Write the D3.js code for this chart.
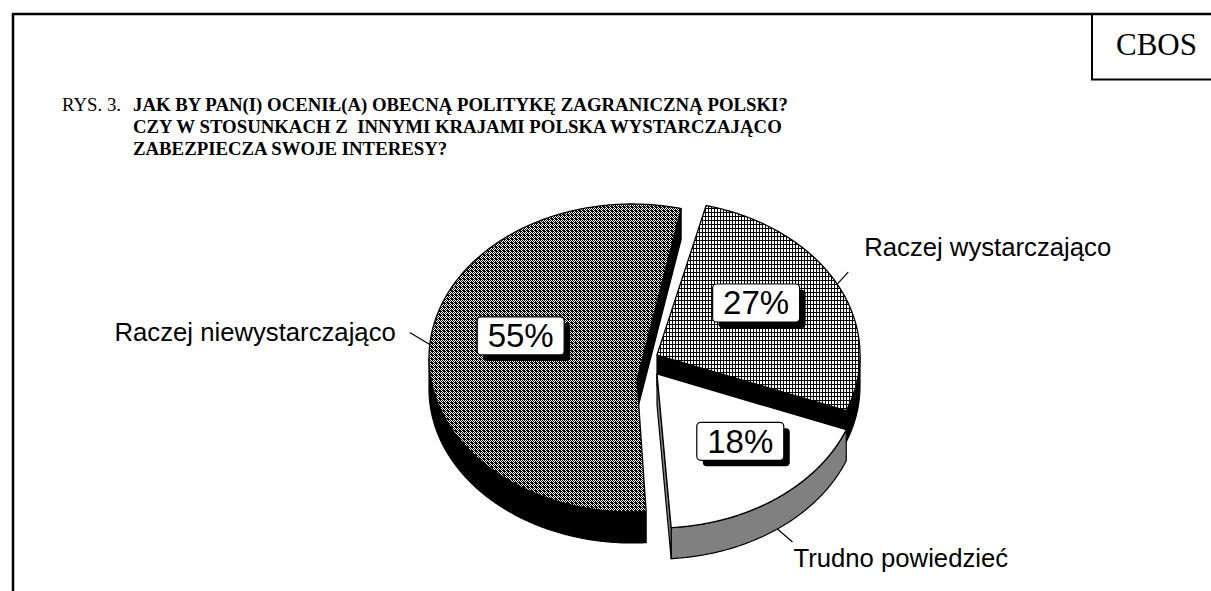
<!DOCTYPE html>
<html><head><meta charset="utf-8">
<script src="https://cdnjs.cloudflare.com/ajax/libs/d3/7.8.5/d3.min.js"></script>
<style>html,body{margin:0;padding:0;background:#fff;} svg{display:block}</style>
</head><body>
<svg id="chart" width="1211" height="591"></svg>
<script>
// ---- data ----
const categories = ["Raczej wystarczająco", "Trudno powiedzieć", "Raczej niewystarczająco"];
const values = [27, 18, 55];
const percentLabels = ["27%", "18%", "55%"];
const figureLabel = "RYS. 3.";
const titleLines = [
  "JAK BY PAN(I) OCENIŁ(A) OBECNĄ POLITYKĘ ZAGRANICZNĄ POLSKI?",
  "CZY W STOSUNKACH Z  INNYMI KRAJAMI POLSKA WYSTARCZAJĄCO",
  "ZABEZPIECZA SWOJE INTERESY?"
];
const sourceLabel = "CBOS";

// ---- layout / style ----
const W = 1211, H = 591;
const RX = 203, RY = 154, DEPTH = 31;
const START_DEG = 14;
const sliceStyle = [
  { center: [657, 355], apexShift: [0, 0], face: "url(#grid)", wall: "#000",
    nudge: [-9, -9.5], leader: [11, -12], textOff: [16, -16], anchor: "start", leaderDepth: false },
  { center: [657, 374], apexShift: [0, 0], face: "#fff", wall: "#808080",
    nudge: [11, -7], leader: [15, 13], textOff: [1, 25], anchor: "start", leaderDepth: true },
  { center: [632, 358], apexShift: [5, 22], face: "url(#dither)", wall: "#000",
    nudge: [10, -14], leader: [-20, -12], textOff: [-14, 8], anchor: "end", leaderDepth: false }
];
const serif = "'Liberation Serif','Times New Roman',serif";
const sans = "'Liberation Sans',Arial,sans-serif";

const svg = d3.select("#chart");
const defs = svg.append("defs");

// grid pattern (27%)
const pg = defs.append("pattern").attr("id", "grid").attr("patternUnits", "userSpaceOnUse")
  .attr("x", 0).attr("y", 0).attr("width", 3).attr("height", 4);
pg.append("rect").attr("width", 3).attr("height", 4).attr("fill", "#fff");
pg.append("rect").attr("x", 0).attr("y", 0).attr("width", 1).attr("height", 4).attr("fill", "#000");
pg.append("rect").attr("x", 0).attr("y", 0).attr("width", 3).attr("height", 1).attr("fill", "#000");

// dither pattern (55%)
const ditherRows = ["1010", "0101", "1011", "1101"];
const pd = defs.append("pattern").attr("id", "dither").attr("patternUnits", "userSpaceOnUse")
  .attr("x", 0).attr("y", 0).attr("width", 4).attr("height", 4);
pd.append("rect").attr("width", 4).attr("height", 4).attr("fill", "#fff");
ditherRows.forEach((row, r) => row.split("").forEach((ch, c) => {
  if (ch === "1") pd.append("rect").attr("x", c).attr("y", r).attr("width", 1).attr("height", 1).attr("fill", "#000");
}));

// ---- frame ----
svg.append("line").attr("x1", 12).attr("x2", W).attr("y1", 14).attr("y2", 14).attr("stroke", "#000").attr("stroke-width", 2.5);
svg.append("line").attr("x1", 13).attr("x2", 13).attr("y1", 13).attr("y2", H).attr("stroke", "#000").attr("stroke-width", 2.5);
svg.append("line").attr("x1", 1092).attr("x2", 1092).attr("y1", 14).attr("y2", 80).attr("stroke", "#000").attr("stroke-width", 2);
svg.append("line").attr("x1", 1091).attr("x2", W).attr("y1", 79.5).attr("y2", 79.5).attr("stroke", "#000").attr("stroke-width", 2);
svg.append("text").attr("x", 1116).attr("y", 55).attr("font-family", serif)
  .attr("font-size", 31).attr("textLength", 81).attr("lengthAdjust", "spacingAndGlyphs").text(sourceLabel);

// ---- title ----
svg.append("text").attr("x", 62).attr("y", 111).attr("font-family", serif)
  .attr("font-size", 18.8).text(figureLabel);
titleLines.forEach((t, i) => {
  svg.append("text").attr("x", 133).attr("y", 111 + i * 22)
    .attr("font-family", serif).attr("font-weight", "bold")
    .attr("font-size", 18.8).style("white-space", "pre").text(t);
});

// ---- pie ----
const pie = d3.pie().sort(null).value(d => d)
  .startAngle(START_DEG * Math.PI / 180).endAngle(START_DEG * Math.PI / 180 + 2 * Math.PI);
const arcs = pie(values);

const xScale = d3.scaleLinear().domain([-1, 1]).range([-RX, RX]);
const yScale = d3.scaleLinear().domain([-1, 1]).range([RY, -RY]);
function proj(c, a, r = 1, dz = 0) {
  return [c[0] + xScale(r * Math.sin(a)), c[1] + yScale(r * Math.cos(a)) + dz];
}
function arcPts(c, a0, a1, dz) {
  const n = Math.max(2, Math.ceil(Math.abs(a1 - a0) / (Math.PI / 360)));
  return d3.range(n + 1).map(i => proj(c, a0 + (a1 - a0) * i / n, 1, dz));
}
const line = d3.line();
const closed = pts => line(pts) + "Z";

const order = [0, 2, 1];
const g = svg.append("g");
order.forEach(i => {
  const a = arcs[i], st = sliceStyle[i];
  const c = st.center;
  const apex = [c[0] + st.apexShift[0], c[1] + st.apexShift[1]];
  const a0 = a.startAngle, a1 = a.endAngle;
  const sg = g.append("g");
  const w0 = Math.max(a0, Math.PI / 2), w1 = Math.min(a1, 3 * Math.PI / 2);
  if (w1 > w0) {
    const top = arcPts(c, w0, w1, 0), bot = arcPts(c, w0, w1, DEPTH).reverse();
    sg.append("path").attr("d", closed(top.concat(bot))).attr("fill", st.wall)
      .attr("stroke", "#000").attr("stroke-width", 1.2).attr("stroke-linejoin", "round");
  }
  [[a0, Math.sin(a0) < 0], [a1, Math.sin(a1) > 0]].forEach(([ang, vis]) => {
    if (!vis) return;
    const p = proj(c, ang);
    const pts = [apex, p, [p[0], p[1] + DEPTH], [apex[0], apex[1] + DEPTH]];
    sg.append("path").attr("d", closed(pts)).attr("fill", st.wall)
      .attr("stroke", "#000").attr("stroke-width", 1.2).attr("stroke-linejoin", "round");
  });
  const facePts = [apex].concat(arcPts(c, a0, a1, 0));
  sg.append("path").attr("d", closed(facePts)).attr("fill", st.face)
    .attr("stroke", "#000").attr("stroke-width", 1.3).attr("stroke-linejoin", "round");
});

// ---- labels ----
const BW = 87, BH = 38;
arcs.forEach((a, i) => {
  const st = sliceStyle[i];
  const mid = (a.startAngle + a.endAngle) / 2;
  const p = proj(st.center, mid, 0.6);
  const cx = p[0] + st.nudge[0], cy = p[1] + st.nudge[1];
  const lg = svg.append("g");
  lg.append("rect").attr("x", cx - BW / 2 + 6).attr("y", cy - BH / 2 + 6).attr("width", BW).attr("height", BH)
    .attr("rx", 4).attr("fill", "#000");
  lg.append("rect").attr("x", cx - BW / 2).attr("y", cy - BH / 2).attr("width", BW).attr("height", BH)
    .attr("rx", 4).attr("fill", "#fff").attr("stroke", "#000").attr("stroke-width", 1.2);
  lg.append("text").attr("x", cx).attr("y", cy + 11.5).attr("text-anchor", "middle")
    .attr("font-family", sans).attr("font-size", 33).text(percentLabels[i]);

  const s = proj(st.center, mid, 1, st.leaderDepth ? DEPTH : 0);
  const e = [s[0] + st.leader[0], s[1] + st.leader[1]];
  svg.append("line").attr("x1", s[0]).attr("y1", s[1]).attr("x2", e[0]).attr("y2", e[1])
    .attr("stroke", "#000").attr("stroke-width", 1.2);
  svg.append("text").attr("x", e[0] + st.textOff[0]).attr("y", e[1] + st.textOff[1])
    .attr("text-anchor", st.anchor).attr("font-family", sans)
    .attr("font-size", 25.7).text(categories[i]);
});
</script>
</body></html>
